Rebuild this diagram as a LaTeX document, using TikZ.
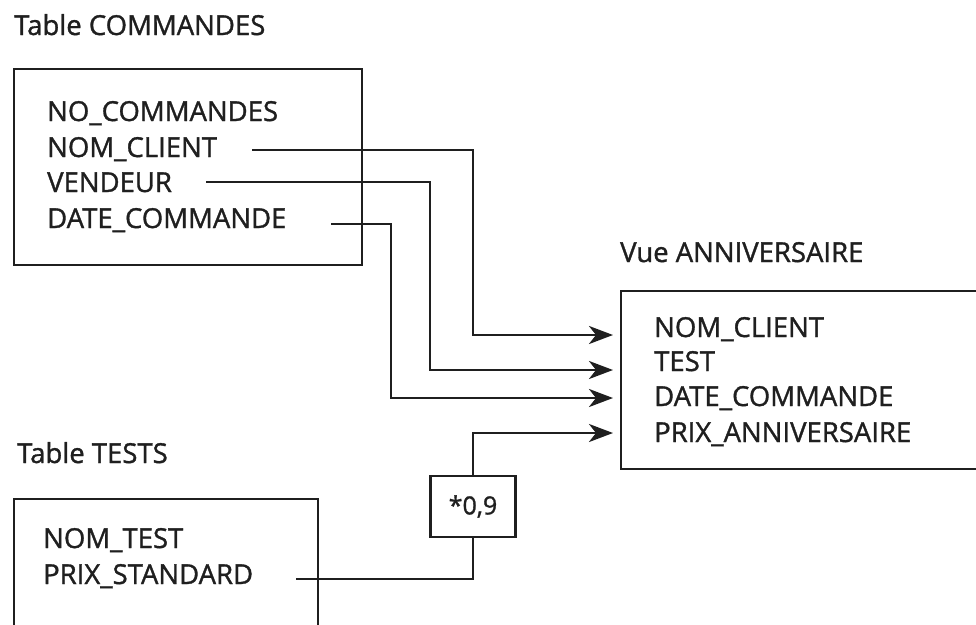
\documentclass[tikz,border=0pt]{standalone}
\usepackage{fontspec}
\setmainfont{Open Sans}[FakeBold=1.2]
\usetikzlibrary{arrows.meta}
\begin{document}
\begin{tikzpicture}[x=1pt,y=-1pt,
  txt/.style={anchor=base west,inner sep=0pt,font=\fontsize{27.5}{32}\selectfont,text=black!88},
  boxline/.style={draw=black!88,line width=2.8pt},
  conn/.style={draw=black!88,line width=2.8pt},
  arr/.style={conn,-{Stealth[length=24pt,width=18pt,inset=7pt]}}]
\useasboundingbox (0,0) rectangle (976,624);
\begin{scope}
\clip (0,0) rectangle (976,624);
% boxes
\draw[boxline] (14,69) rectangle (362,265);
\draw[boxline] (621,291) rectangle (1000,469);
\draw[boxline] (14,499) rectangle (318,660);
\end{scope}
% titles
\node[txt] (tc) at (14,35) {Table COMMANDES};
\node[txt] (tv) at (620,262) {Vue ANNIVERSAIRE};
\node[txt] (tt) at (17,463) {Table TESTS};
% COMMANDES fields
\node[txt] (c1) at (47,121) {NO\_COMMANDES};
\node[txt] (c2) at (47,157) {NOM\_CLIENT};
\node[txt] (c3) at (47,192) {VENDEUR};
\node[txt] (c4) at (47,228) {DATE\_COMMANDE};
% VUE fields
\node[txt] (v1) at (654,337) {NOM\_CLIENT};
\node[txt] (v2) at (654,371) {TEST};
\node[txt] (v3) at (654,406) {DATE\_COMMANDE};
\node[txt] (v4) at (654,442) {PRIX\_ANNIVERSAIRE};
% TESTS fields
\node[txt] (t1) at (43,548) {NOM\_TEST};
\node[txt] (t2) at (43,584) {PRIX\_STANDARD};
% factor box
\node[draw=black!88,line width=2.8pt,minimum width=85pt,minimum height=61pt,inner sep=0pt,
  font=\fontsize{25}{30}\selectfont,text=black!88] (f) at (473,506.5) {*0,9};
% connector start/end points
\coordinate (s1) at (252,150);
\coordinate (s2) at (206,182);
\coordinate (s3) at (331,224);
\coordinate (s4) at (296,579);
\coordinate (e1) at (613,335);
\coordinate (e2) at (613,370);
\coordinate (e3) at (613,398);
\coordinate (e4) at (613,433);
% connectors
\draw[arr] (s1) -| (473,335) -- (e1);
\draw[arr] (s2) -| (430,370) -- (e2);
\draw[arr] (s3) -| (391,398) -- (e3);
\draw[conn] (s4) -| (f.south);
\draw[arr] (f.north) |- (e4);
\end{tikzpicture}
\end{document}
